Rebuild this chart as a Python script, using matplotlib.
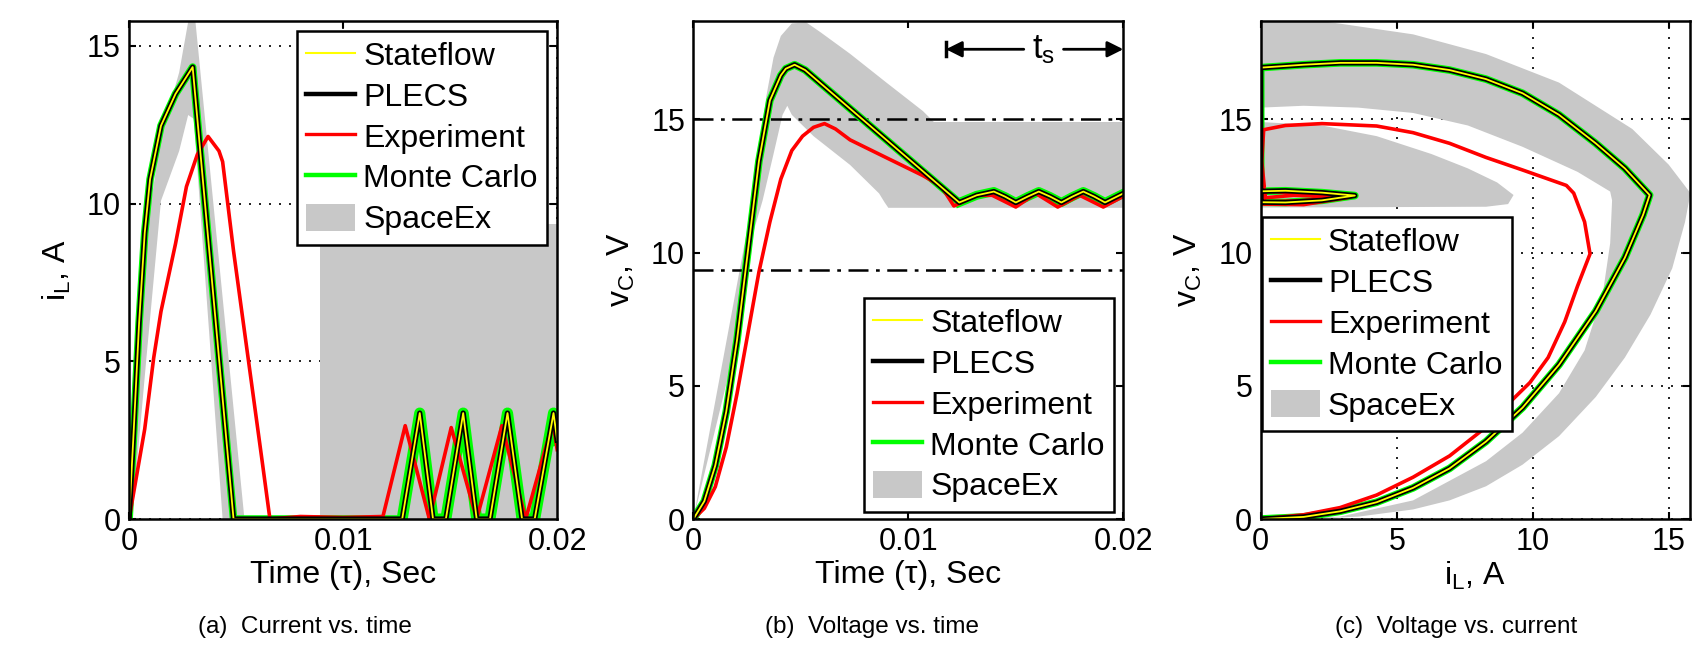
import matplotlib.pyplot as plt
from matplotlib.lines import Line2D
from matplotlib.patches import Patch

plt.rcParams['font.family'] = ['Liberation Sans', 'DejaVu Sans']
plt.rcParams['mathtext.fontset'] = 'custom'
plt.rcParams['mathtext.rm'] = 'Liberation Sans'
plt.rcParams['mathtext.it'] = 'Liberation Sans:italic'

# ---------------- (a) current vs time ----------------
t_a_sim = [0, 0.00022, 0.00047, 0.00073, 0.00098, 0.00149, 0.00217, 0.00297, 0.00488,
           0.01276, 0.01358, 0.01420, 0.01480, 0.01561, 0.01624, 0.01686, 0.01768,
           0.01836, 0.01895, 0.01983, 0.0200]
i_a_sim = [0, 2.85, 6.24, 9.07, 10.77, 12.47, 13.48, 14.33, 0,
           0, 3.36, 0, 0, 3.36, 0, 0, 3.36,
           0, 0, 3.36, 2.5]
a_steady = 9  # index where the steady-state ripple starts

t_a_exp = [0, 0.00073, 0.00115, 0.00149, 0.00217, 0.00268, 0.00319, 0.00369, 0.0042,
           0.00437, 0.00488, 0.00556, 0.00624, 0.00658, 0.0080, 0.0100, 0.01186,
           0.0129, 0.01403, 0.01505, 0.01624, 0.01742, 0.01853, 0.0198, 0.0200]
i_a_exp = [0, 2.85, 5.11, 6.58, 8.73, 10.54, 11.56, 12.13, 11.67,
           11.33, 8.5, 5.11, 1.72, 0, 0.08, 0.05, 0.08,
           2.96, 0, 2.9, 0, 2.96, 0, 3.08, 2.2]

# SpaceEx reach set: transient lobe and steady-state box
t_a_sx = [0, 0.00031, 0.00081, 0.00149, 0.00234, 0.00298, 0.00539,
          0.00437, 0.00302, 0.00276, 0.00234, 0.00149, 0.00081, 0.00014]
i_a_sx = [0, 3.98, 9.07, 12.13, 14.16, 16.6, 0,
          0, 12.69, 12.81, 11.67, 10.09, 5.11, 0]
t_a_box = [0.00892, 0.0200]
i_a_box_top = 9.36

# ---------------- (b) voltage vs time ----------------
t_b_sim = [0, 0.00051, 0.00102, 0.00153, 0.00203, 0.00254, 0.00305, 0.00356, 0.00407,
           0.0043, 0.00471, 0.0052, 0.01237, 0.01318, 0.01398, 0.0145, 0.0150, 0.01555,
           0.01607, 0.0166, 0.01712, 0.01763, 0.01814, 0.01865, 0.01915, 0.0200]
v_b_sim = [0, 0.67, 2.01, 4.03, 6.71, 10.07, 13.43, 15.71, 16.65,
           16.9, 17.05, 16.85, 11.88, 12.15, 12.29, 12.1, 11.88, 12.1,
           12.29, 12.1, 11.88, 12.1, 12.29, 12.1, 11.88, 12.22]
b_steady = 12

t_b_exp = [0, 0.00051, 0.00102, 0.00153, 0.00203, 0.00254, 0.00305, 0.00356, 0.00407,
           0.00458, 0.00508, 0.00559, 0.0061, 0.00661, 0.00729, 0.00898, 0.01068,
           0.01153, 0.01212, 0.01322, 0.0139, 0.0150, 0.01593, 0.01695, 0.01797,
           0.01907, 0.0200]
v_b_exp = [0, 0.40, 1.21, 2.69, 4.70, 6.98, 9.27, 11.15, 12.76,
           13.83, 14.37, 14.70, 14.84, 14.64, 14.23, 13.56, 12.89,
           12.49, 11.75, 12.15, 12.15, 11.71, 12.22, 11.71, 12.15,
           11.71, 12.11]

t_b_sx = [0, 0.00288, 0.00314, 0.00339, 0.00373, 0.00407, 0.00458, 0.00525, 0.00593,
          0.00729, 0.00898, 0.01068, 0.01119, 0.0200,
          0.0200, 0.00907, 0.0089, 0.00864, 0.00729, 0.00559, 0.00458, 0.00437,
          0.00415, 0.00373, 0.00322, 0.00254, 0.00203, 0]
v_b_sx = [0, 12.49, 14.10, 15.85, 17.32, 18.13, 18.6, 18.64, 18.26,
          17.46, 16.38, 15.31, 14.9, 14.9,
          11.68, 11.68, 11.88, 12.22, 13.29, 14.37, 15.17, 15.51,
          15.17, 13.7, 11.95, 10.07, 6.71, 0]
v_b_bounds = [15.0, 9.33]
ts_start, ts_y = 0.01175, 17.63

# ---------------- (c) voltage vs current ----------------
i_c_sim = [0, 1.58, 2.92, 4.26, 5.6, 6.94, 8.28, 9.62, 10.96, 12.31, 13.38, 14.05, 14.29,
           13.38, 12.31, 10.96, 9.62, 8.28, 6.94, 5.6, 4.26, 2.92, 1.58, 0,
           0, 0.91, 2.25, 3.46, 2.25, 0.91, 0, 0]
v_c_sim = [0, 0.08, 0.29, 0.63, 1.17, 1.9, 2.91, 4.18, 5.79, 7.8, 9.81, 11.42, 12.16,
           13.16, 14.1, 15.17, 15.98, 16.51, 16.85, 17.05, 17.12, 17.12, 17.05, 16.94,
           11.89, 11.88, 11.96, 12.14, 12.25, 12.32, 12.3, 11.89]

i_c_exp = [0, 1.58, 2.92, 4.26, 5.6, 6.94, 8.28, 9.22, 9.89, 10.56, 11.17, 11.64, 12.1,
           11.9, 11.5, 11.23, 9.62, 8.28, 6.94, 5.6, 4.26, 2.25, 0.91, 0.11, 0.04, 0.13,
           0.04, 1.58, 3.3, 1.58, 0.2, 0.1, 1.5, 3.0, 1.2, 0.1]
v_c_exp = [0, 0.16, 0.43, 0.9, 1.57, 2.37, 3.45, 4.45, 5.12, 6.06, 7.4, 8.74, 9.95,
           11.15, 12.23, 12.52, 13.1, 13.57, 14.1, 14.5, 14.75, 14.84, 14.77, 14.61, 13.43,
           12.49, 11.82, 11.8, 12.08, 12.22, 12.3, 11.9, 11.95, 12.1, 12.15, 12.05]

i_c_sx = [0, 2.92, 5.6, 8.28, 10.96, 13.65, 14.99, 15.79, 15.59, 15.12, 14.32, 13.38,
          12.31, 10.96, 9.62, 8.28, 6.94, 5.6, 3.59, 1.58, 0,
          2.92, 5.6, 8.28, 9.62, 10.96, 11.9, 12.57, 12.84, 12.91, 12.84, 11.64,
          9.62, 7.61, 5.6, 3.59, 1.58, 0]
v_c_sx = [19.0, 18.59, 18.19, 17.45, 16.38, 14.64, 13.3, 12.23, 11.15, 9.41, 7.67, 6.06,
          4.58, 3.11, 2.04, 1.23, 0.7, 0.36, 0.09, 0, 0,
          0.09, 0.7, 2.17, 3.24, 4.72, 6.33, 8.47, 10.35, 11.96, 12.29, 13.03,
          13.97, 14.77, 15.24, 15.44, 15.51, 15.44]
i_c_blob = [0, 2.25, 4.26, 6.27, 7.61, 8.69, 9.29, 9.09, 8.28, 0]
v_c_blob = [14.9, 14.77, 14.37, 13.7, 13.16, 12.63, 12.16, 11.82, 11.72, 11.69]

labels = ['Stateflow', 'PLECS', 'Experiment', 'Monte Carlo', 'SpaceEx']
captions = ['(a)  Current vs. time', '(b)  Voltage vs. time', '(c)  Voltage vs. current']

YEL, GRN, RED, GRY = '#ffff00', '#00ff00', '#ff0000', '#c8c8c8'
FS = 22


def style(ax, xlim, ylim, xticks, xticklabels):
    ax.set_xlim(xlim)
    ax.set_ylim(ylim)
    ax.set_xticks(xticks)
    ax.set_xticklabels(xticklabels)
    ax.set_yticks([0, 5, 10, 15])
    ax.tick_params(direction='in', top=True, right=True, length=5, width=1.5,
                   labelsize=FS, pad=6)
    for s in ax.spines.values():
        s.set_linewidth(1.8)
        s.set_zorder(6)


def sims(ax, x, y, n_ss=None, ss_lw=5.5):
    ax.plot(x, y, color=GRN, lw=5.5, zorder=2)
    if n_ss is not None:
        ax.plot(x[n_ss:], y[n_ss:], color=GRN, lw=ss_lw, zorder=2)
    ax.plot(x, y, color='k', lw=3.8, zorder=4)
    ax.plot(x, y, color=YEL, lw=1.3, zorder=5)


def legend(ax, loc, anchor):
    handles = [Line2D([], [], color=YEL, lw=1.5), Line2D([], [], color='k', lw=3.2),
               Line2D([], [], color=RED, lw=2.4), Line2D([], [], color=GRN, lw=3.2),
               Patch(facecolor=GRY, edgecolor='none')]
    leg = ax.legend(handles, labels, loc=loc, bbox_to_anchor=anchor, borderaxespad=0,
                    fontsize=23, fancybox=False, edgecolor='k', framealpha=1,
                    handlelength=1.53, handleheight=0.9, handletextpad=0.25,
                    labelspacing=0.3, borderpad=0.3)
    leg.get_frame().set_linewidth(1.8)
    leg.set_zorder(10)


fig = plt.figure(figsize=(16.94, 6.45), dpi=100)
ax1 = fig.add_axes([0.0762, 0.1953, 0.2527, 0.7721])
ax2 = fig.add_axes([0.4093, 0.1953, 0.2538, 0.7721])
ax3 = fig.add_axes([0.7442, 0.1953, 0.2534, 0.7721])

# (a)
ax1.fill(t_a_sx, i_a_sx, color=GRY, lw=0, zorder=1)
ax1.fill_between(t_a_box, 0, i_a_box_top, color=GRY, lw=0, zorder=1)
sims(ax1, t_a_sim, i_a_sim, a_steady, 8)
ax1.plot(t_a_exp, i_a_exp, color=RED, lw=2.6, zorder=3)
style(ax1, (0, 0.02), (0, 15.79), [0, 0.01, 0.02], ['0', '0.01', '0.02'])
ax1.grid(True, color='k', linestyle=(0, (1.2, 4.8)), lw=1.2)
ax1.set_axisbelow(True)
ax1.set_xlabel('Time (τ), Sec', fontsize=23, labelpad=2)
ax1.set_ylabel(r'$\mathregular{i_L}$, A', fontsize=23, labelpad=10)
legend(ax1, 'upper right', (0.977, 0.98))

# (b)
ax2.fill(t_b_sx, v_b_sx, color=GRY, lw=0, zorder=1)
for yv in v_b_bounds:
    ax2.axhline(yv, color='k', lw=1.8, dashes=(8, 3, 1.5, 3), zorder=1.5)
sims(ax2, t_b_sim, v_b_sim, b_steady, 6.5)
ax2.plot(t_b_exp, v_b_exp, color=RED, lw=2.6, zorder=3)
style(ax2, (0, 0.02), (0, 18.69), [0, 0.01, 0.02], ['0', '0.01', '0.02'])
ax2.set_xlabel('Time (τ), Sec', fontsize=23, labelpad=2)
ax2.set_ylabel(r'$\mathregular{v_C}$, V', fontsize=23, labelpad=10)
arrow = dict(arrowstyle='-|>', color='k', lw=2, mutation_scale=24, shrinkA=0, shrinkB=0)
ax2.annotate('', xy=(ts_start, ts_y), xytext=(0.01537, ts_y), arrowprops=arrow)
ax2.annotate('', xy=(0.0200, ts_y), xytext=(0.01722, ts_y), arrowprops=arrow,
             annotation_clip=False)
ax2.plot([ts_start, ts_start], [ts_y - 0.27, ts_y + 0.27], color='k', lw=2.5)
ax2.text(0.0163, ts_y, r'$\mathregular{t_s}$', fontsize=25, ha='center', va='center')
legend(ax2, 'lower right', (0.979, 0.014))

# (c)
ax3.fill(i_c_sx, v_c_sx, color=GRY, lw=0, zorder=1)
ax3.fill(i_c_blob, v_c_blob, color=GRY, lw=0, zorder=1)
sims(ax3, i_c_sim, v_c_sim)
ax3.plot(i_c_exp, v_c_exp, color=RED, lw=2.6, zorder=3)
style(ax3, (0, 15.77), (0, 18.69), [0, 5, 10, 15], ['0', '5', '10', '15'])
ax3.grid(True, color='k', linestyle=(0, (1.2, 4.8)), lw=1.2)
ax3.set_axisbelow(True)
ax3.set_xlabel(r'$\mathregular{i_L}$, A', fontsize=23, labelpad=2)
ax3.set_ylabel(r'$\mathregular{v_C}$, V', fontsize=23, labelpad=10)
legend(ax3, 'upper left', (0.002, 0.606))

for xc, cap in zip([305, 872, 1456], captions):
    fig.text(xc / 1694, 1 - 627 / 645, cap, ha='center', va='center', fontsize=17.5)

fig.savefig('out.png', dpi=100)
